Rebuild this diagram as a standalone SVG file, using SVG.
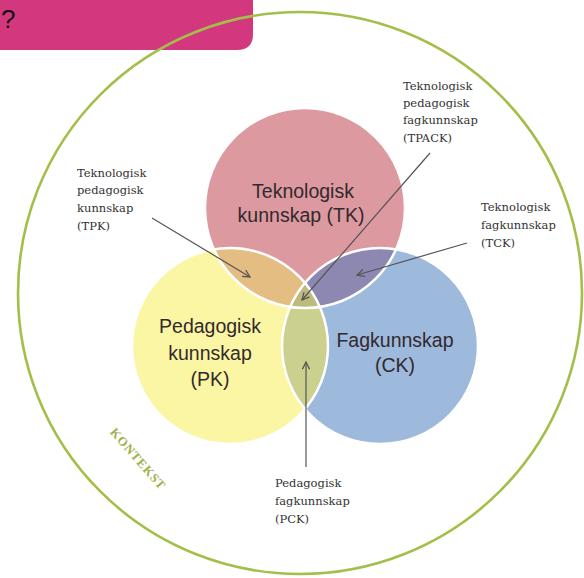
<svg xmlns="http://www.w3.org/2000/svg" width="584" height="578" viewBox="0 0 584 578">
<style>
.big{font-family:"Liberation Sans","Open Sans",sans-serif;font-size:19.5px;fill:#33292d;text-anchor:middle}
.lbl{font-family:"DejaVu Serif","Liberation Serif",serif;font-size:11.5px;fill:#333}
.arr{stroke:#555;stroke-width:1.2;fill:none;marker-end:url(#ah)}
.edge{fill:none;stroke:#fff;stroke-width:2.5}
</style>
<defs>
<marker id="ah" viewBox="0 0 10 10" refX="9" refY="5" markerWidth="9" markerHeight="9" markerUnits="userSpaceOnUse" orient="auto">
<path d="M1,1 L9,5 L1,9" fill="none" stroke="#555" stroke-width="1.4"/>
</marker>
<clipPath id="cR"><circle cx="305" cy="208" r="100"/></clipPath>
<clipPath id="cY"><circle cx="230" cy="346" r="98"/></clipPath>
</defs>
<g id="header">
<path d="M0,0 H253 V34 Q253,50 237,50 H0 Z" fill="#d3387f"/>
<text x="1" y="28" font-family="Liberation Sans,Arial,sans-serif" font-size="26" fill="#111">?</text>
</g>
<g id="kontekst">
<ellipse cx="300" cy="293" rx="282" ry="281" fill="none" stroke="#a3bf4a" stroke-width="2.6"/>
<text transform="translate(138,459) rotate(49)" text-anchor="middle" font-family="Liberation Serif,serif" font-weight="bold" font-size="12.5" letter-spacing="0.9" fill="#a0b04a" dy="4">KONTEKST</text>
</g>
<g id="venn">
<circle cx="305" cy="208" r="100" fill="#dc9aa0"/>
<circle cx="230" cy="346" r="98" fill="#fbf6a3"/>
<circle cx="380" cy="346" r="98" fill="#9db9dc"/>
<circle cx="230" cy="346" r="98" fill="#e4bd82" clip-path="url(#cR)"/>
<circle cx="380" cy="346" r="98" fill="#8d88b1" clip-path="url(#cR)"/>
<circle cx="380" cy="346" r="98" fill="#cbd08f" clip-path="url(#cY)"/>
<g clip-path="url(#cR)"><circle cx="380" cy="346" r="98" fill="#bdbb7e" clip-path="url(#cY)"/></g>
<circle class="edge" cx="305" cy="208" r="100"/>
<circle class="edge" cx="230" cy="346" r="98"/>
<circle class="edge" cx="380" cy="346" r="98"/>
</g>
<g id="TK"><text class="big" x="303" y="198">Teknologisk</text><text class="big" x="301" y="222">kunnskap (TK)</text></g>
<g id="PK"><text class="big" x="210" y="333">Pedagogisk</text><text class="big" x="210" y="360">kunnskap</text><text class="big" x="210" y="386">(PK)</text></g>
<g id="CK"><text class="big" x="395" y="347">Fagkunnskap</text><text class="big" x="395" y="372">(CK)</text></g>
<g id="TPK"><text class="lbl" x="77" y="177">Teknologisk</text><text class="lbl" x="77" y="194">pedagogisk</text><text class="lbl" x="77" y="212">kunnskap</text><text class="lbl" x="77" y="230">(TPK)</text></g>
<g id="TPACK"><text class="lbl" x="403" y="90">Teknologisk</text><text class="lbl" x="403" y="107">pedagogisk</text><text class="lbl" x="403" y="124">fagkunnskap</text><text class="lbl" x="403" y="142">(TPACK)</text></g>
<g id="TCK"><text class="lbl" x="481" y="211">Teknologisk</text><text class="lbl" x="481" y="229">fagkunnskap</text><text class="lbl" x="481" y="247">(TCK)</text></g>
<g id="PCK"><text class="lbl" x="275" y="487">Pedagogisk</text><text class="lbl" x="275" y="505">fagkunnskap</text><text class="lbl" x="275" y="523">(PCK)</text></g>
<g id="connectors">
<line class="arr" x1="152" y1="218" x2="250" y2="277"/>
<line class="arr" x1="430" y1="153" x2="302" y2="300"/>
<line class="arr" x1="467" y1="243" x2="357" y2="275"/>
<line class="arr" x1="306" y1="467" x2="306" y2="362"/>
</g>
</svg>
